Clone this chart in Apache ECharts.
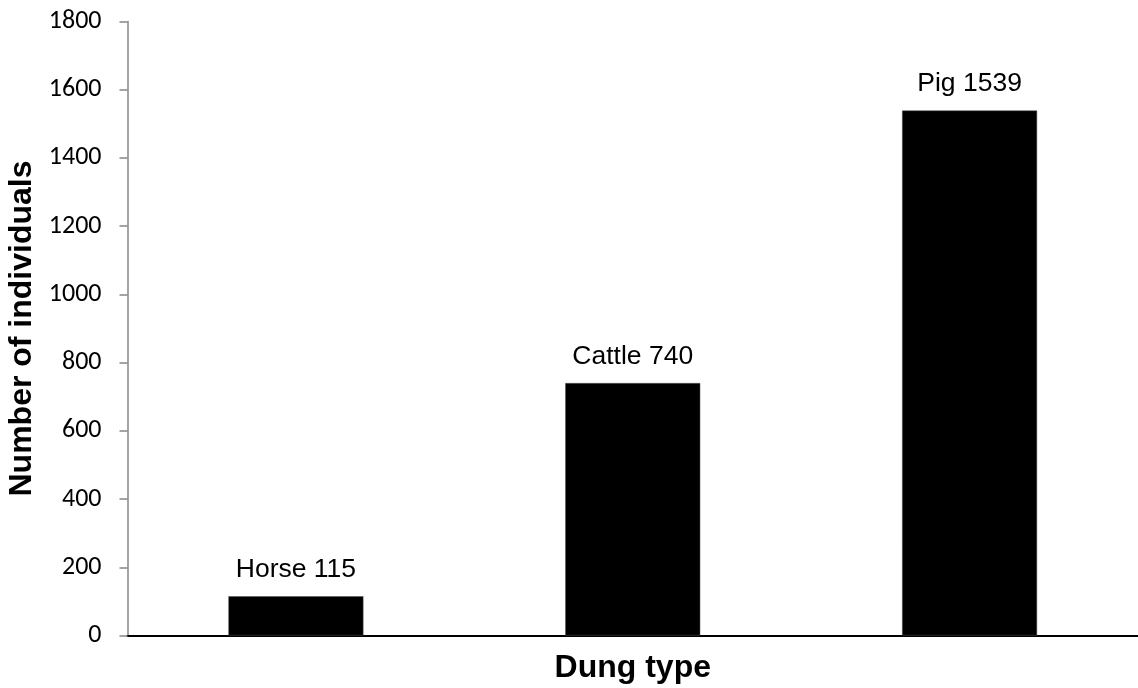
<!DOCTYPE html>
<html>
<head>
<meta charset="utf-8">
<script src="https://cdn.jsdelivr.net/npm/echarts@6/dist/echarts.min.js"></script>
<style>html,body{margin:0;padding:0;background:#fff}#c{width:1138px;height:688px}</style>
</head>
<body>
<div id="c"></div>
<script>
const categories = ['Horse', 'Cattle', 'Pig'];
const values = [115, 740, 1539];
const yTicks = [0, 200, 400, 600, 800, 1000, 1200, 1400, 1600, 1800];

const chart = echarts.init(document.getElementById('c'), null, {renderer: 'canvas'});
chart.setOption({
  animation: false,
  backgroundColor: '#fff',
  grid: {left: 127.5, right: 0, top: 21.5, bottom: 52.5, containLabel: false, outerBoundsMode: 'none'},
  xAxis: {
    type: 'category',
    data: categories,
    name: 'Dung type',
    nameLocation: 'middle',
    nameGap: 17,
    nameTextStyle: {fontFamily: 'Liberation Sans', fontWeight: 'bold', fontSize: 32, color: '#000'},
    axisLine: {lineStyle: {color: '#000', width: 2}},
    axisTick: {show: false},
    axisLabel: {show: false}
  },
  yAxis: {
    type: 'value',
    min: yTicks[0],
    max: yTicks[yTicks.length - 1],
    interval: 200,
    name: 'Number of individuals',
    nameLocation: 'middle',
    nameGap: 87,
    nameTextStyle: {fontFamily: 'Liberation Sans', fontWeight: 'bold', fontSize: 32, color: '#000'},
    axisLine: {show: true, lineStyle: {color: '#868686', width: 1.5}},
    axisTick: {show: true, length: 8, lineStyle: {color: '#868686', width: 1.5}},
    axisLabel: {margin: 26, fontFamily: 'Carlito, Liberation Sans', fontSize: 26, color: '#000', formatter: v => String(v)},
    splitLine: {show: false}
  },
  series: [{
    type: 'bar',
    data: values,
    barWidth: 135,
    itemStyle: {color: '#000', borderColor: '#555', borderWidth: 0.5},
    label: {
      show: true,
      position: 'top',
      distance: 13,
      fontFamily: 'Liberation Sans',
      fontSize: 26.5,
      color: '#000',
      formatter: p => categories[p.dataIndex] + ' ' + values[p.dataIndex]
    }
  }]
});
</script>
</body>
</html>
